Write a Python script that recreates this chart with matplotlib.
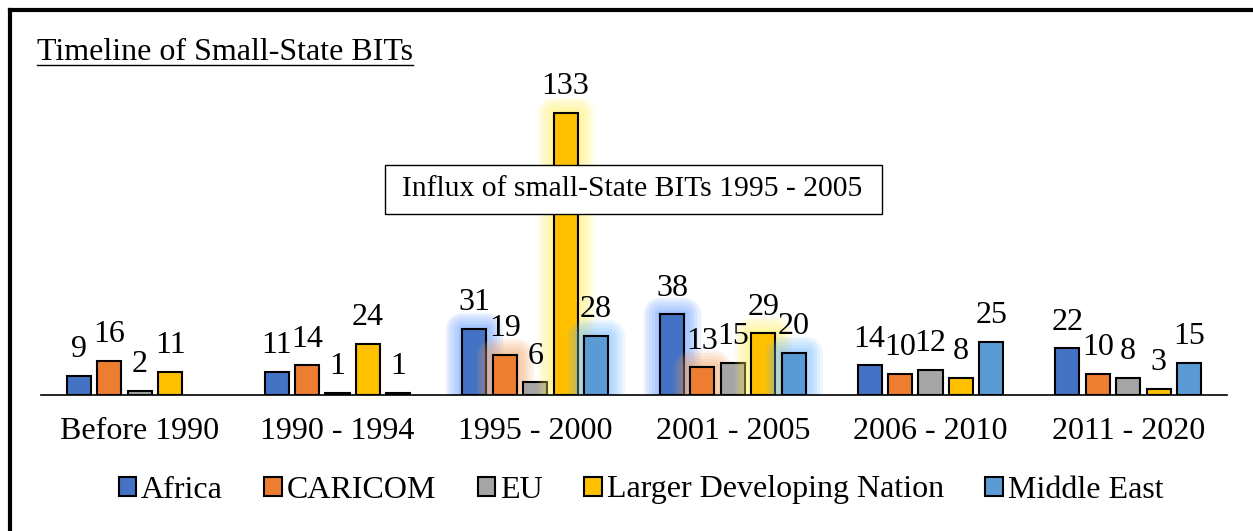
import numpy as np
import matplotlib
matplotlib.use("Agg")
import matplotlib.pyplot as plt
import matplotlib.patheffects as pe
from matplotlib.lines import Line2D
from matplotlib.patches import Patch, Rectangle

plt.rcParams['font.family'] = ['Liberation Serif', 'DejaVu Serif']

# Data
periods = ['Before 1990', '1990 - 1994', '1995 - 2000', '2001 - 2005', '2006 - 2010', '2011 - 2020']
regions = ['Africa', 'CARICOM', 'EU', 'Larger Developing Nation', 'Middle East']
africa = [9, 11, 31, 38, 14, 22]
caricom = [16, 14, 19, 13, 10, 10]
eu = [2, 1, 6, 15, 12, 8]
larger = [11, 24, 133, 29, 8, 3]
middle_east = [0, 1, 28, 20, 25, 15]
series = [africa, caricom, eu, larger, middle_east]
colors = ['#4472C4', '#ED7D31', '#A5A5A5', '#FFC000', '#5B9BD5']
glow_colors = ['#4D8CFF', '#F59A55', None, '#FFF04D', '#5FB0FF']
# which periods get a glow (influx years)
glow_periods = [2, 3]

W, H = 1253, 531
fig = plt.figure(figsize=(W / 100, H / 100), dpi=100)
ax = fig.add_axes([41 / W, 1 - 395 / H, (1227 - 41) / W, (395 - 98) / H])

x = np.arange(len(periods))
slot = 0.154
bw = 0.122

def glow(col):
    effs = []
    for lw in [24, 20, 16, 12, 8, 4]:
        effs.append(pe.Stroke(linewidth=lw, foreground=col, alpha=0.11, joinstyle='round'))
    effs.append(pe.Normal())
    return effs

handles = []
for i, (vals, col, name) in enumerate(zip(series, colors, regions)):
    pos = x + (i - 2) * slot
    bars = ax.bar(pos, vals, width=bw, color=col, edgecolor='black', linewidth=1.5, zorder=3)
    handles.append(Patch(facecolor=col, edgecolor='black', linewidth=1.5, label=name))
    for j, (b, v) in enumerate(zip(bars, vals)):
        if v == 0:
            b.set_visible(False)
            continue
        if j in glow_periods and glow_colors[i] is not None:
            b.set_path_effects(glow(glow_colors[i]))
        ax.annotate(str(v), (pos[j], v), xytext=(0, 13.5), textcoords='offset points',
                    ha='center', va='baseline', fontsize=23, zorder=5)

ax.set_xlim(-0.5, len(periods) - 0.5)
ax.set_ylim(0, 140)
ax.set_xticks(x)
ax.set_xticklabels(periods, fontsize=23)
ax.tick_params(axis='x', length=0, pad=16)
ax.set_yticks([])
for s in ['top', 'right', 'left']:
    ax.spines[s].set_visible(False)
ax.spines['bottom'].set_linewidth(1.2)
ax.spines['bottom'].set_zorder(6)

# annotation box
fig.add_artist(Rectangle((385 / W, 1 - 214 / H), 497 / W, 49 / H, transform=fig.transFigure,
                         facecolor='white', edgecolor='black', linewidth=1, zorder=9))
fig.text(632 / W, 1 - 189 / H, 'Influx of small-State BITs 1995 - 2005', fontsize=21.3,
         ha='center', va='center', zorder=10)

# title with underline
title = fig.text(37 / W, 1 - 60 / H, 'Timeline of Small-State BITs', fontsize=23,
                 ha='left', va='baseline')

leg = fig.legend(handles=handles, loc='center', bbox_to_anchor=(641 / W, 1 - 490 / H), ncol=5,
                 frameon=False, fontsize=23, handlelength=0.55, handleheight=0.55,
                 handletextpad=0.15, columnspacing=1.3)

# outer border (top and left only)
fig.add_artist(Line2D([10 / W, 10 / W], [0, 1 - 10 / H], color='black', linewidth=3))
fig.add_artist(Line2D([10 / W, 1], [1 - 10 / H, 1 - 10 / H], color='black', linewidth=3))

fig.canvas.draw()
bb = title.get_window_extent().transformed(fig.transFigure.inverted())
fig.add_artist(Line2D([bb.x0, bb.x1], [1 - 65 / H, 1 - 65 / H], color='black', linewidth=1))

fig.savefig('out.png', dpi=100)
